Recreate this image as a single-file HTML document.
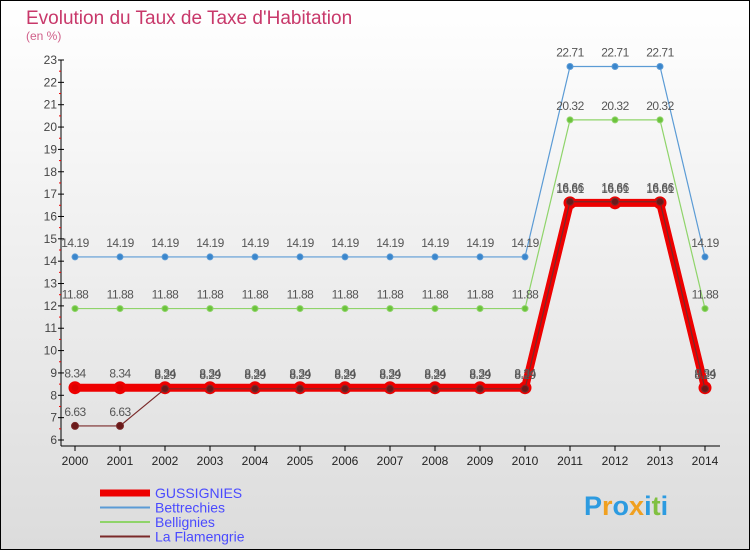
<!DOCTYPE html>
<html><head><meta charset="utf-8"><style>
body{margin:0}
#c{width:750px;height:550px;position:relative;box-sizing:border-box;border:1px solid #000;background:linear-gradient(#fff,#dcdcdc);overflow:hidden;font-family:"Liberation Sans",sans-serif}
</style></head><body>
<div id="c">
<svg id="s" width="750" height="550" style="position:absolute;left:-1px;top:-1px"></svg>
</div>
<script>
const years=[2000,2001,2002,2003,2004,2005,2006,2007,2008,2009,2010,2011,2012,2013,2014];
const gussignies=[8.34,8.34,8.34,8.34,8.34,8.34,8.34,8.34,8.34,8.34,8.34,16.61,16.61,16.61,8.34];
const bettrechies=[14.19,14.19,14.19,14.19,14.19,14.19,14.19,14.19,14.19,14.19,14.19,22.71,22.71,22.71,14.19];
const bellignies=[11.88,11.88,11.88,11.88,11.88,11.88,11.88,11.88,11.88,11.88,11.88,20.32,20.32,20.32,11.88];
const flamengrie=[6.63,6.63,8.29,8.29,8.29,8.29,8.29,8.29,8.29,8.29,8.29,16.66,16.66,16.66,8.29];
const yTicks=[6,7,8,9,10,11,12,13,14,15,16,17,18,19,20,21,22,23];
const NS="http://www.w3.org/2000/svg";const s=document.getElementById('s');
const X=i=>75+i*45, Y=v=>440-(v-6)*(380/17);
function el(t,a,txt){const e=document.createElementNS(NS,t);for(const k in a)e.setAttribute(k,a[k]);if(txt!==undefined)e.textContent=txt;s.appendChild(e);return e;}
let e;
e=el('text',{x:26,y:24,'font-size':19,fill:'#c8386a'},'Evolution du Taux de Taxe d\'Habitation');

e=el('text',{x:26,y:40,'font-size':12,fill:'#d0608a'},'(en %)');

e=el('line',{x1:61,y1:60,x2:61,y2:446,stroke:'#000'});
e=el('line',{x1:61,y1:446,x2:720,y2:446,stroke:'#000'});
yTicks.forEach(v=>{const y=Y(v);
 e=el('line',{x1:58,y1:y,x2:64,y2:y,stroke:'#000'});
 e=el('text',{x:57,y:y+4,'font-size':12,fill:'#444','text-anchor':'end'},v);
 if(v<23){e=el('line',{x1:59,y1:Y(v+0.5),x2:61,y2:Y(v+0.5),stroke:'#e00'});}
});
years.forEach((yr,i)=>{
 e=el('line',{x1:X(i),y1:446,x2:X(i),y2:451,stroke:'#000'});
 e=el('text',{x:X(i),y:465,'font-size':12,fill:'#222','text-anchor':'middle'},yr);
});
function series(d,color,w,r,fill,name){
 const pts=d.map((v,i)=>X(i)+','+Y(v)).join(' ');
 e=el('polyline',{points:pts,fill:'none',stroke:color,'stroke-width':w,'stroke-linejoin':'round'});
 
 d.forEach((v,i)=>{e=el('circle',{cx:X(i),cy:Y(v),r:r,fill:fill,stroke:color,'stroke-width':w>3?3:1});
  });
}
function labels(d,name){d.forEach((v,i)=>{e=el('text',{x:X(i),y:Y(v)-10,'font-size':12,fill:'#555','text-anchor':'middle','letter-spacing':'-0.5'},v);
 });}
series(bettrechies,'#5b9bd5',1.2,3,'#3a86cc','bettrechies');
series(bellignies,'#8fd46a',1.2,3,'#6cc33c','bellignies');
series(gussignies,'#ee0000',8,5,'#d00','gussignies');
series(flamengrie,'#7a2a2a',1.2,3.5,'#6a1a1a','la-flamengrie');
labels(bettrechies,'bettrechies');labels(bellignies,'bellignies');labels(gussignies,'gussignies');labels(flamengrie,'la-flamengrie');
const leg=[['GUSSIGNIES','#ee0000',7],['Bettrechies','#5b9bd5',2],['Bellignies','#8fd46a',2],['La Flamengrie','#7a2a2a',2]];
leg.forEach((l,i)=>{const y=493+i*14.5;
 e=el('line',{x1:100,y1:y,x2:150,y2:y,stroke:l[1],'stroke-width':l[2]});
 e=el('text',{x:155,y:y+5,'font-size':14,fill:'#4a4aff'},l[0]);
});
e=el('text',{x:584,y:515,'font-size':27,'font-weight':'bold',fill:'#e8a020'},'');

[['P','#2d9be0'],['r','#f0a020'],['o','#2d9be0'],['x','#f0a020'],['i','#2d9be0'],['t','#80c040'],['i','#2d9be0']].forEach(c=>{const t=document.createElementNS(NS,'tspan');t.setAttribute('fill',c[1]);t.textContent=c[0];e.appendChild(t);});
</script>
</body></html>
